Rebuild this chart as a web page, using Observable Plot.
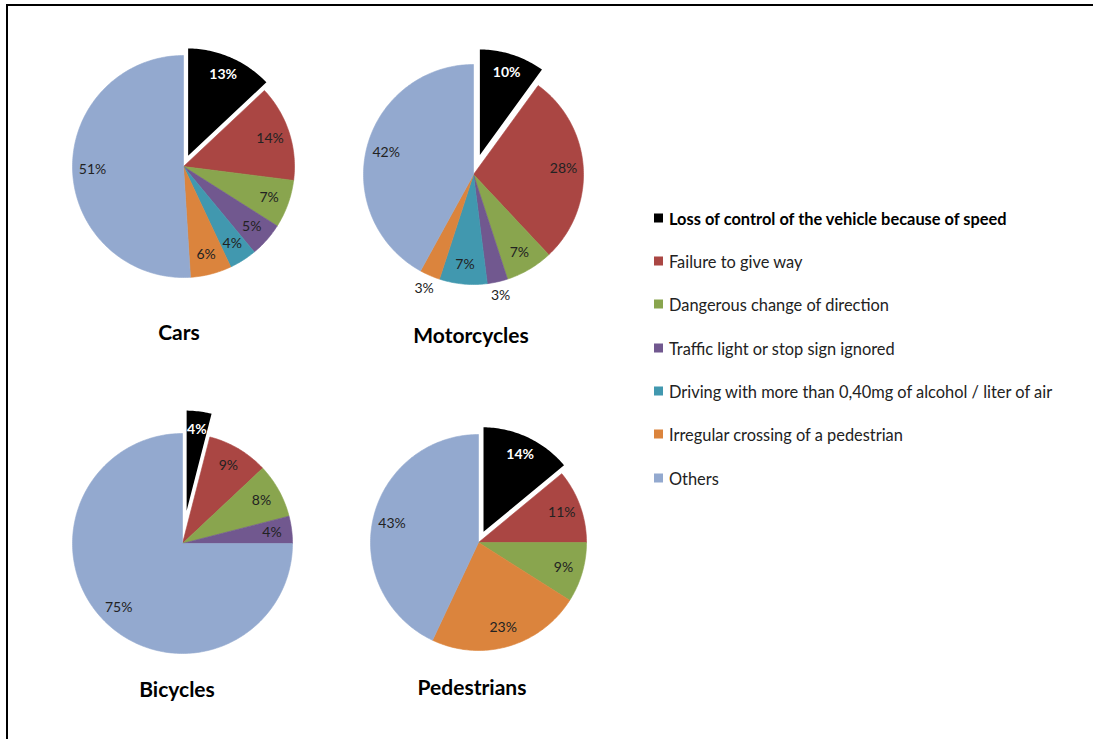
<!DOCTYPE html>
<html>
<head>
<meta charset="utf-8">
<script src="https://cdn.jsdelivr.net/npm/d3@7"></script>
<script src="https://cdn.jsdelivr.net/npm/@observablehq/plot@0.6"></script>
<style>
  body { margin: 0; background: #fff; }
  #chart { position: relative; width: 1093px; height: 739px; overflow: hidden; font-family: Lato, "Open Sans", sans-serif; background: #fff; }
  .frame { position: absolute; left: 6px; top: 4px; width: 1100px; height: 760px; border-left: 2px solid #000; border-top: 2px solid #000; }
  .pie { position: absolute; }
  .title { position: absolute; transform: translate(-50%, -50%); font-weight: 700; font-size: 21px; color: #000; white-space: nowrap; }
  .item { position: absolute; display: flex; align-items: center; transform: translateY(-50%); font-size: 16.4px; color: #222; white-space: nowrap; }
  .item .sw { width: 9px; height: 9px; margin-right: 6px; flex: none; }
  .item.first { font-weight: 700; color: #000; }
</style>
</head>
<body>
<div id="chart"><div class="frame"></div></div>
<script>
// Causes of road accidents by type of road user (% of accidents)
const causes = [
  "Loss of control of the vehicle because of speed",
  "Failure to give way",
  "Dangerous change of direction",
  "Traffic light or stop sign ignored",
  "Driving with more than 0,40mg of alcohol / liter of air",
  "Irregular crossing of a pedestrian",
  "Others"
];
const colors = ["#000000", "#AA4643", "#89A54E", "#71588F", "#4198AF", "#DB843D", "#93A9CF"];
const groups = ["Cars", "Motorcycles", "Bicycles", "Pedestrians"];
const cars        = [13, 14, 7, 5, 4, 6, 51];
const motorcycles = [10, 28, 7, 3, 7, 3, 42];
const bicycles    = [4, 9, 8, 4, 0, 0, 75];
const pedestrians = [14, 11, 9, 0, 0, 23, 43];
const series = [cars, motorcycles, bicycles, pedestrians];

// Placement of each pie: centre, radius (px), offset of the pulled-out slice (fraction of radius), title position
const layout = [
  {cx: 182.5, cy: 166, r: 111, explode: 0.08,  tx: 179, ty: 331},
  {cx: 473,   cy: 174, r: 110, explode: 0.155, tx: 471, ty: 334},
  {cx: 182,   cy: 543, r: 110, explode: 0.22,  tx: 177, ty: 688},
  {cx: 478,   cy: 542, r: 108, explode: 0.085, tx: 472, ty: 686}
];
const legendX = 654, legendY0 = 217.7, legendStep = 43.33;

const chart = document.getElementById("chart");

function pie(values, L) {
  const S = 280, half = S / 2 / L.r;
  const outline = [], labels = [];
  let cum = 0;
  values.forEach((v, i) => {
    if (!v) return;
    const a0 = cum / 100 * 2 * Math.PI, a1 = (cum + v) / 100 * 2 * Math.PI;
    cum += v;
    const mid = (a0 + a1) / 2;
    const off = i === 0 ? L.explode : 0;
    const ox = off * Math.sin(mid), oy = off * Math.cos(mid);
    const n = Math.max(2, Math.ceil((a1 - a0) / (Math.PI / 180)));
    outline.push({i, x: ox, y: oy});
    for (let k = 0; k <= n; k++) {
      const t = a0 + (a1 - a0) * k / n;
      outline.push({i, x: ox + Math.sin(t), y: oy + Math.cos(t)});
    }
    outline.push({i, x: ox, y: oy});
    // small slices carry their label just outside the rim
    const lr = v <= 3 ? 1.13 : 0.82;
    labels.push({i, v, x: ox + lr * Math.sin(mid), y: oy + lr * Math.cos(mid)});
  });
  return Plot.plot({
    width: S, height: S, margin: 0,
    x: {domain: [-half, half], axis: null},
    y: {domain: [-half, half], axis: null},
    color: {type: "ordinal", domain: d3.range(colors.length), range: colors},
    style: {background: "transparent", overflow: "visible"},
    marks: [
      Plot.line(outline.filter(d => d.i !== 0), {x: "x", y: "y", z: "i", fill: "i", stroke: "i", strokeWidth: 0.6}),
      Plot.line(outline.filter(d => d.i === 0), {x: "x", y: "y", z: "i", fill: "i", stroke: "white", strokeWidth: 2.2, strokeLinejoin: "miter"}),
      Plot.text(labels.filter(d => d.i !== 0), {x: "x", y: "y", text: d => d.v + "%", fill: "#222", fontSize: 14, fontFamily: "Lato"}),
      Plot.text(labels.filter(d => d.i === 0), {x: "x", y: "y", text: d => d.v + "%", fill: "white", fontWeight: "bold", fontSize: 14, fontFamily: "Lato"})
    ]
  });
}

series.forEach((values, g) => {
  const L = layout[g];
  const svg = pie(values, L);
  svg.classList.add("pie");
  svg.style.left = (L.cx - 140) + "px";
  svg.style.top = (L.cy - 140) + "px";
  chart.appendChild(svg);
  const t = document.createElement("div");
  t.className = "title";
  t.textContent = groups[g];
  t.style.left = L.tx + "px";
  t.style.top = L.ty + "px";
  chart.appendChild(t);
});

causes.forEach((c, i) => {
  const item = document.createElement("div");
  item.className = "item" + (i === 0 ? " first" : "");
  item.style.left = legendX + "px";
  item.style.top = (legendY0 + i * legendStep) + "px";
  const sw = document.createElement("span");
  sw.className = "sw";
  sw.style.background = colors[i];
  item.appendChild(sw);
  item.appendChild(document.createTextNode(c));
  chart.appendChild(item);
});
</script>
</body>
</html>
